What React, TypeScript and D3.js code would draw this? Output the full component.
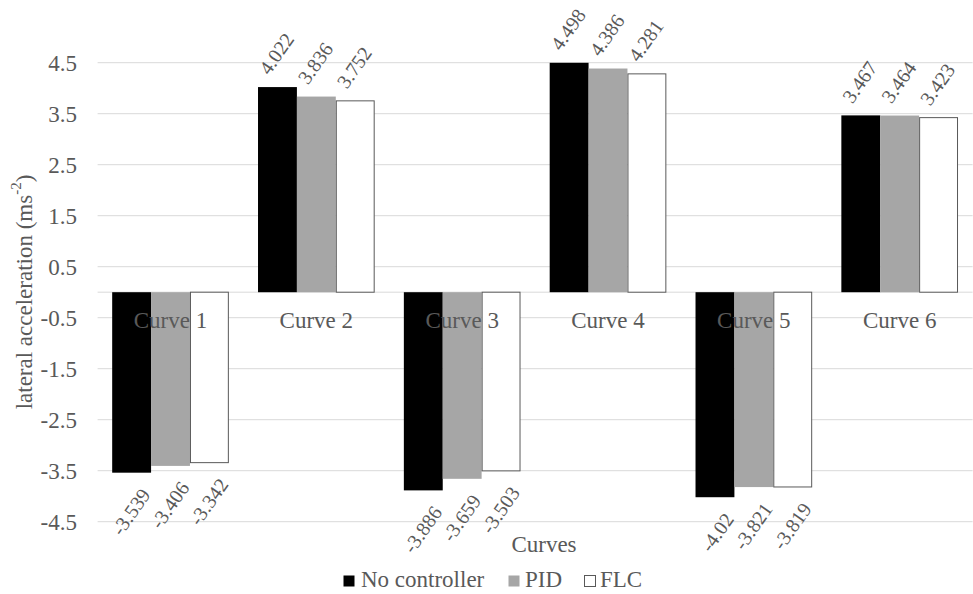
import React from "react";
import * as d3 from "d3";

const categories = ["Curve 1", "Curve 2", "Curve 3", "Curve 4", "Curve 5", "Curve 6"];
const seriesNames = ["No controller", "PID", "FLC"];
const noController = [-3.539, 4.022, -3.886, 4.498, -4.02, 3.467];
const pid = [-3.406, 3.836, -3.659, 4.386, -3.821, 3.464];
const flc = [-3.342, 3.752, -3.503, 4.281, -3.819, 3.423];
const yTicks = [-4.5, -3.5, -2.5, -1.5, -0.5, 0.5, 1.5, 2.5, 3.5, 4.5];

const W = 973;
const H = 594;
const FONT = '"Liberation Serif", "Times New Roman", serif';
const TEXT = "#595959";

const fills = ["#000000", "#a6a6a6", "#ffffff"];
const strokes = ["none", "none", "#595959"];

export default function App() {
  const series = [noController, pid, flc];
  const x = d3.scaleBand<string>().domain(categories).range([97.6, 972.6]).paddingInner(0.2).paddingOuter(0.1);
  const xs = d3.scaleBand<number>().domain([0, 1, 2]).range([0, x.bandwidth()]).padding(0);
  const y = d3.scaleLinear().domain([-4.5, 4.5]).range([521.7, 62.7]);
  const y0 = y(0);
  const fmt = (v: number) => String(v);

  return (
    <svg width={W} height={H} style={{ position: "absolute", left: 0, top: 0, display: "block", background: "#fff" }} fontFamily={FONT}>
      <rect x={0} y={0} width={W} height={H} fill="#fff" />
      {yTicks.map((t) => (
        <g key={t}>
          <line x1={97.6} x2={972.6} y1={y(t)} y2={y(t)} stroke="#d9d9d9" strokeWidth={1} />
          <text x={77} y={y(t)} dy="0.35em" textAnchor="end" fontSize={23} fill={TEXT}>
            {t.toFixed(1)}
          </text>
        </g>
      ))}
      <line x1={97.6} x2={972.6} y1={y0} y2={y0} stroke="#d9d9d9" strokeWidth={1} />
      {categories.map((c, i) => (
        <g key={c}>
          {series.map((s, j) => {
            const v = s[i];
            const bx = (x(c) as number) + (xs(j) as number);
            const bw = xs.bandwidth();
            const top = Math.min(y(v), y0);
            const h = Math.abs(y(v) - y0);
            return (
              <rect key={j} x={bx + (j === 2 ? 0.5 : 0)} y={top} width={bw - (j === 2 ? 1 : 0)} height={h}
                fill={fills[j]} stroke={strokes[j]} strokeWidth={1} />
            );
          })}
        </g>
      ))}
      {categories.map((c) => (
        <text key={c} x={(x(c) as number) + x.bandwidth() / 2} y={328} textAnchor="middle" fontSize={23} fill={TEXT}>
          {c}
        </text>
      ))}
      {categories.map((c, i) => (
        <g key={"l" + c}>
          {series.map((s, j) => {
            const v = s[i];
            const cx = (x(c) as number) + (xs(j) as number) + xs.bandwidth() / 2;
            if (v >= 0) {
              const px = cx - 14;
              const py = y(v) - 15;
              return (
                <text key={j} x={px} y={py} dominantBaseline="central" textAnchor="start" fontSize={20} fill={TEXT}
                  transform={`rotate(-55 ${px} ${py})`}>
                  {fmt(v)}
                </text>
              );
            }
            const px = cx + 14;
            const py = y(v) + 18;
            return (
              <text key={j} x={px} y={py} dominantBaseline="central" textAnchor="end" fontSize={20} fill={TEXT}
                transform={`rotate(-55 ${px} ${py})`}>
                {fmt(v)}
              </text>
            );
          })}
        </g>
      ))}
      <text x={24} y={292} transform="rotate(-90 24 292)" textAnchor="middle" dominantBaseline="central" fontSize={23} fill={TEXT}>
        lateral acceleration (ms<tspan dy={-8} fontSize={15}>-2</tspan><tspan dy={8}>)</tspan>
      </text>
      <text x={544} y={552} textAnchor="middle" fontSize={23} fill={TEXT}>Curves</text>
      {(() => {
        const items = [
          { name: seriesNames[0], mx: 343, tx: 361 },
          { name: seriesNames[1], mx: 508, tx: 525 },
          { name: seriesNames[2], mx: 584, tx: 600 },
        ];
        return items.map((it, j) => (
          <g key={it.name}>
            <rect x={it.mx + 0.5} y={575.5} width={11} height={11} fill={fills[j]} stroke={j === 2 ? "#595959" : "none"} strokeWidth={1} />
            <text x={it.tx} y={587} fontSize={23} fill={TEXT}>{it.name}</text>
          </g>
        ));
      })()}
    </svg>
  );
}
